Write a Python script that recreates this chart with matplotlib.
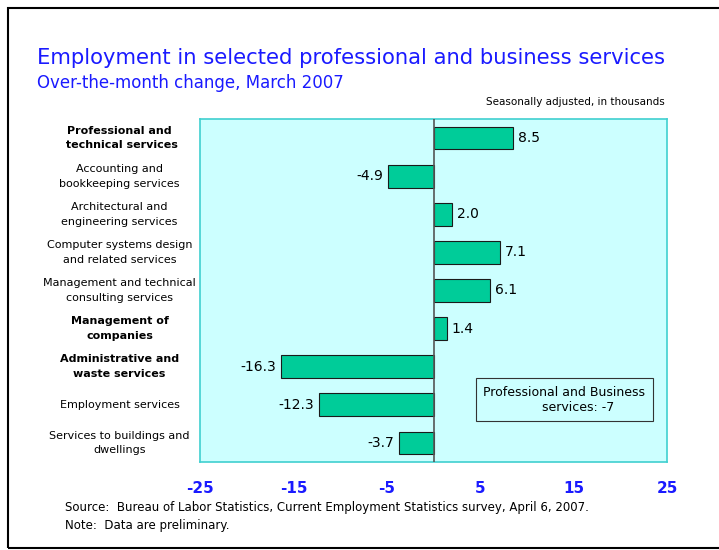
import matplotlib.pyplot as plt
from matplotlib.patches import Rectangle

# categories and values (thousands, over-the-month change)
categories = [
    "Professional and\n technical services",
    "Accounting and\nbookkeeping services",
    "Architectural and\nengineering services",
    "Computer systems design\nand related services",
    "Management and technical\nconsulting services",
    "Management of\ncompanies",
    "Administrative and\nwaste services",
    "Employment services",
    "Services to buildings and\ndwellings",
]
values = [8.5, -4.9, 2.0, 7.1, 6.1, 1.4, -16.3, -12.3, -3.7]
bold_rows = [0, 5, 6]
ticks = [-25, -15, -5, 5, 15, 25]

blue = "#1a1aff"

fig = plt.figure(figsize=(7.19, 5.5), dpi=100)
W, H = 719, 550

# outer frame
fig.patches.append(Rectangle((8 / W, 2 / H), 1.2, 540 / H, transform=fig.transFigure,
                             fill=False, edgecolor="black", linewidth=1.5))

ax = fig.add_axes([200 / W, 1 - 462 / H, 467 / W, 343 / H])
ax.set_facecolor("#ccffff")
for s in ax.spines.values():
    s.set_color("#40d0d0")
    s.set_linewidth(1.2)

y = list(range(len(categories)))
ax.barh(y, values, height=0.6, color="#00cc99", edgecolor="#1a1a1a", linewidth=0.8, zorder=2)
ax.axvline(0, color="#555555", linewidth=1.2, zorder=3)
ax.set_xlim(-25, 25)
ax.set_ylim(len(categories) - 0.5, -0.5)

for i, v in enumerate(values):
    if v >= 0:
        ax.text(v + 0.5, i, f"{v:.1f}", va="center", ha="left", fontsize=10)
    else:
        ax.text(v - 0.5, i, f"{v:.1f}", va="center", ha="right", fontsize=10)

ax.set_yticks([])
ax.set_xticks(ticks)
ax.set_xticklabels([str(t) for t in ticks], color=blue, fontweight="bold", fontsize=11)
ax.tick_params(axis="x", length=0, pad=14)

# category labels
for i, c in enumerate(categories):
    ax.text(-33.6, i, c, ha="center", va="center", fontsize=8,
            fontweight="bold" if i in bold_rows else "normal", linespacing=1.6)

# summary box
ax.text(14, 6.87, "Professional and Business\n       services: -7", ha="center", va="center",
        fontsize=9, bbox=dict(boxstyle="square,pad=0.6", facecolor="#ccffff", edgecolor="#333333",
                              linewidth=0.8))

fig.text(37 / W, 1 - 58 / H, "Employment in selected professional and business services",
         color=blue, fontsize=15.2, va="center", ha="left")
fig.text(37 / W, 1 - 83 / H, "Over-the-month change, March 2007",
         color=blue, fontsize=12, va="center", ha="left")
fig.text(665 / W, 1 - 102 / H, "Seasonally adjusted, in thousands",
         fontsize=7.5, va="center", ha="right")
fig.text(65 / W, 1 - 508 / H,
         "Source:  Bureau of Labor Statistics, Current Employment Statistics survey, April 6, 2007.",
         fontsize=8.5, va="center", ha="left")
fig.text(65 / W, 1 - 526 / H, "Note:  Data are preliminary.",
         fontsize=8.5, va="center", ha="left")

fig.savefig("out.png", dpi=100)
